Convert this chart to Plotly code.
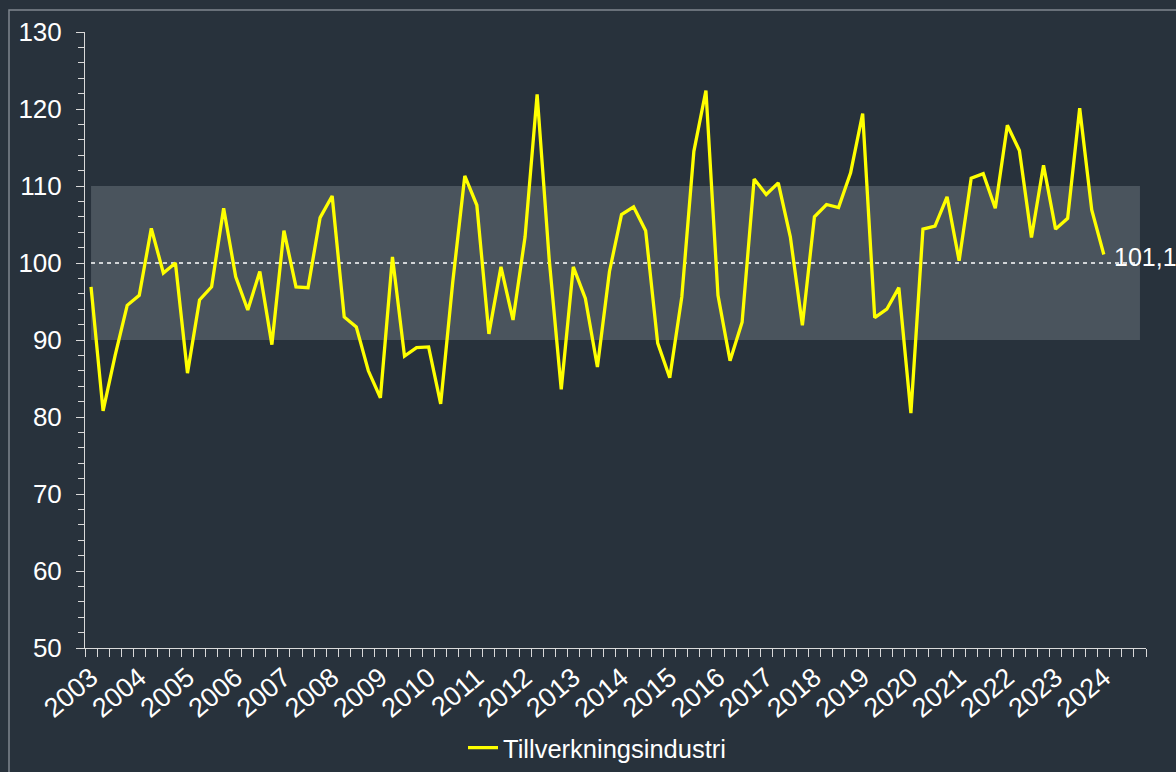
import plotly.graph_objects as go

years = [str(y) for y in range(2003, 2025)]
quarters = [f"{y}K{q}" for y in range(2003, 2025) for q in range(1, 5)]

values = [
    96.9, 80.8, 88.0, 94.5, 95.8, 104.5, 98.7, 100.0,
    85.7, 95.2, 96.9, 107.1, 98.2, 93.9, 98.9, 89.4,
    104.2, 96.9, 96.8, 105.9, 108.7, 93.0, 91.7, 86.0,
    82.5, 100.8, 87.9, 89.0, 89.1, 81.7, 97.5, 111.3,
    107.5, 90.8, 99.5, 92.6, 103.4, 121.9, 100.5, 83.6,
    99.5, 95.4, 86.5, 98.9, 106.3, 107.3, 104.2, 89.6,
    85.1, 95.6, 114.5, 122.4, 95.8, 87.3, 92.3, 110.9,
    108.9, 110.4, 103.4, 91.9, 106.0, 107.6, 107.2, 111.7,
    119.4, 92.9, 94.0, 96.8, 80.5, 104.4, 104.8, 108.6,
    100.3, 111.0, 111.6, 107.1, 117.9, 114.6, 103.3, 112.7,
    104.4, 105.8, 120.1, 106.9, 101.1,
]

band_low = [90] * len(quarters)
band_high = [110] * len(quarters)
ref_level = [100] * len(quarters)

series_name = "Tillverkningsindustri"

BG = "#28323c"
BAND = "#4a545d"
TXT = "#ffffff"
AX = "#d9d9d9"
FONT = "Liberation Sans, Arial, sans-serif"

xi_all = list(range(len(quarters)))
xi_data = list(range(len(values)))

fig = go.Figure()
fig.add_trace(go.Scatter(x=xi_all, y=band_low, mode="lines", line=dict(width=0),
                         showlegend=False, hoverinfo="skip"))
fig.add_trace(go.Scatter(x=xi_all, y=band_high, mode="lines", line=dict(width=0),
                         fill="tonexty", fillcolor=BAND, showlegend=False, hoverinfo="skip"))
fig.add_trace(go.Scatter(x=xi_all, y=ref_level, mode="lines",
                         line=dict(color="#ffffff", width=1.3, dash="4px,4px"),
                         showlegend=False, hoverinfo="skip"))
fig.add_trace(go.Scatter(x=xi_data, y=values, mode="lines", name=series_name,
                         line=dict(color="#ffff00", width=3.3)))

year_idx = [quarters.index(f"{y}K1") for y in years]

fig.update_xaxes(
    range=[-0.5, len(quarters) - 0.5],
    tickmode="array", tickvals=year_idx, ticktext=years,
    ticks="", tickangle=-40,
    tickfont=dict(size=27, color=TXT, family=FONT),
    ticklabelstandoff=2,
    showline=True, linecolor=AX, linewidth=1,
    showgrid=False, zeroline=False, automargin=False,
    minor=dict(tick0=-0.5, dtick=1, ticks="outside", ticklen=8, tickcolor=AX, tickwidth=1, showgrid=False),
)
fig.update_yaxes(
    range=[50, 130], dtick=10, tick0=50,
    ticks="outside", ticklen=8, tickcolor=AX, tickwidth=1,
    tickfont=dict(size=26, color=TXT, family=FONT),
    ticklabelstandoff=9,
    showline=True, linecolor=AX, linewidth=1,
    showgrid=False, zeroline=False, automargin=False,
    minor=dict(dtick=2, ticks="outside", ticklen=6, tickcolor=AX, tickwidth=1, showgrid=False),
)

last_label = f"{values[-1]:.1f}".replace(".", ",")
fig.add_annotation(x=xi_data[-1], y=values[-1], text=last_label, showarrow=False,
                   xanchor="left", yanchor="middle", xshift=8, yshift=-2,
                   font=dict(size=25, color=TXT, family=FONT))

L, R, T, B = 85, 30, 32, 124
W, H = 1176, 772
pw, ph = W - L - R, H - T - B
fig.add_shape(type="rect", xref="paper", yref="paper",
              x0=(9 - L) / pw, x1=(W + 20 - L) / pw,
              y0=-(B + 20) / ph, y1=1 + (T - 10) / ph,
              line=dict(color="#7f878f", width=1.5), fillcolor="rgba(0,0,0,0)", layer="below")

fig.update_layout(
    width=W, height=H,
    margin=dict(l=L, r=R, t=T, b=B, autoexpand=False),
    paper_bgcolor=BG, plot_bgcolor=BG,
    font=dict(family=FONT, color=TXT, size=25),
    showlegend=True,
    legend=dict(orientation="h", x=(597 - L) / pw, xanchor="center",
                y=-(748 - T - ph) / ph, yanchor="middle",
                font=dict(size=25.5, color=TXT, family=FONT),
                bgcolor="rgba(0,0,0,0)", itemwidth=30),
)

fig.write_html(
    "out.html",
    config={"displayModeBar": False},
    post_script="document.body.style.margin='0';document.body.style.background='%s';" % BG,
)
